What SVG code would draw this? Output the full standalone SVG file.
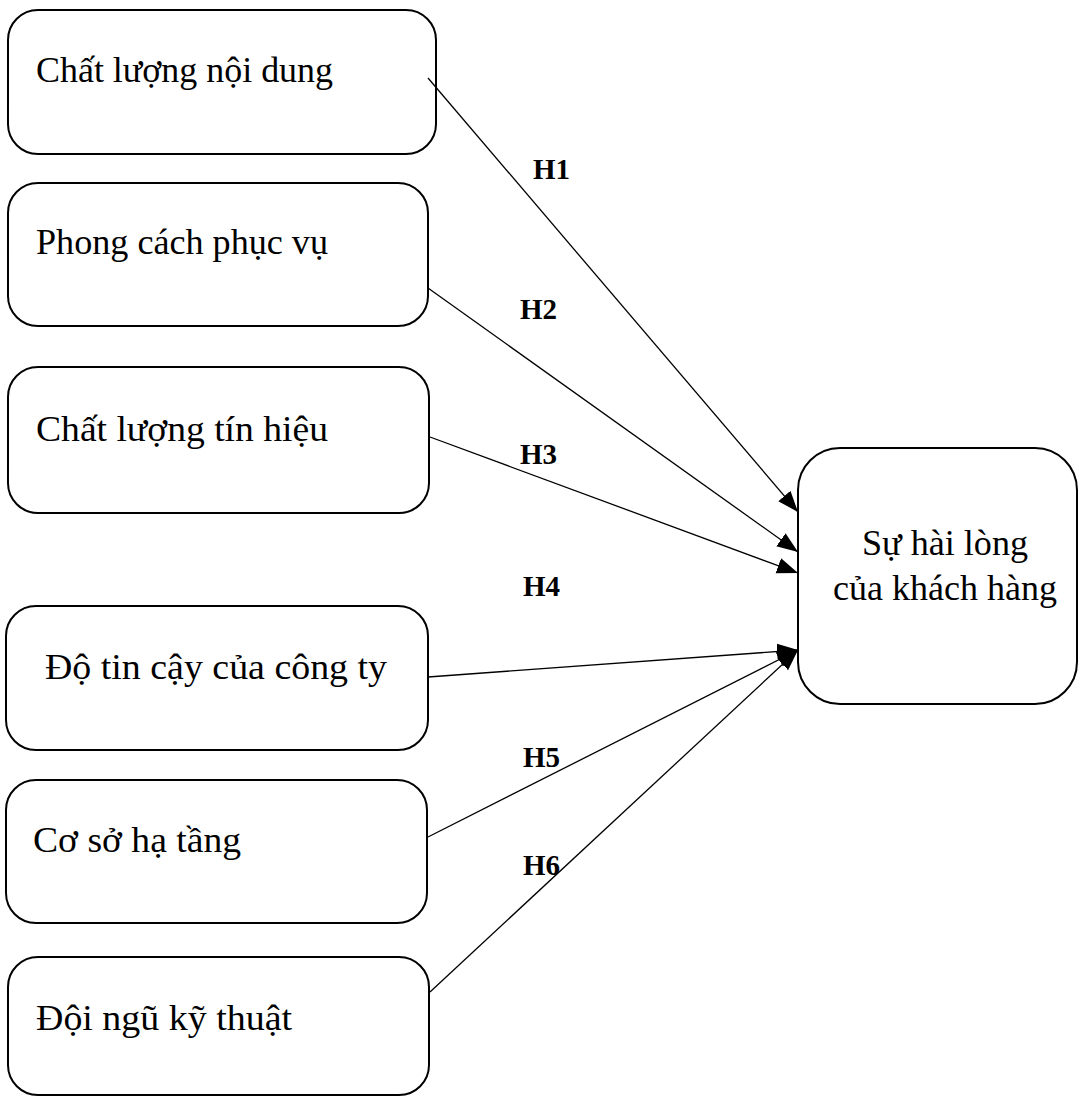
<svg xmlns="http://www.w3.org/2000/svg" width="1081" height="1097" viewBox="0 0 1081 1097">
<style>
.box{fill:#fff;stroke:#000;stroke-width:2}
.t{font-family:"Liberation Serif","Times New Roman",serif;font-size:36px;fill:#000}
.h{font-family:"Liberation Serif","Times New Roman",serif;font-size:29px;font-weight:bold;fill:#000}
.c{stroke:#000;stroke-width:1.3;fill:none;marker-end:url(#arr)}
</style>
<defs>
<marker id="arr" markerUnits="userSpaceOnUse" markerWidth="24" markerHeight="18" refX="21" refY="8" orient="auto">
<path d="M0,0 L21,8 L0,16 Z" fill="#000"/>
</marker>
</defs>
<rect width="1081" height="1097" fill="#fff"/>
<g id="n1"><rect class="box" x="8" y="10" width="428" height="144" rx="30"/><text class="t" x="36" y="82" textLength="297" lengthAdjust="spacingAndGlyphs">Chất lượng nội dung</text></g>
<g id="n2"><rect class="box" x="8" y="183" width="420" height="143" rx="30"/><text class="t" x="36" y="254" textLength="292" lengthAdjust="spacingAndGlyphs">Phong cách phục vụ</text></g>
<g id="n3"><rect class="box" x="8" y="367" width="421" height="146" rx="30"/><text class="t" x="36" y="441" textLength="292" lengthAdjust="spacingAndGlyphs">Chất lượng tín hiệu</text></g>
<g id="n4"><rect class="box" x="6" y="606" width="422" height="144" rx="30"/><text class="t" x="45" y="679" textLength="342" lengthAdjust="spacingAndGlyphs">Độ tin cậy của công ty</text></g>
<g id="n5"><rect class="box" x="6" y="780" width="421" height="143" rx="30"/><text class="t" x="33" y="852" textLength="208" lengthAdjust="spacingAndGlyphs">Cơ sở hạ tầng</text></g>
<g id="n6"><rect class="box" x="8" y="957" width="421" height="138" rx="30"/><text class="t" x="36" y="1030" textLength="256" lengthAdjust="spacingAndGlyphs">Đội ngũ kỹ thuật</text></g>
<g id="target"><rect class="box" x="798" y="448" width="279" height="256" rx="42"/><text class="t" x="862" y="555" textLength="166" lengthAdjust="spacingAndGlyphs">Sự hài lòng</text><text class="t" x="833" y="600" textLength="224" lengthAdjust="spacingAndGlyphs">của khách hàng</text></g>
<g id="connectors">
<line class="c" x1="428" y1="78" x2="798" y2="512"/>
<line class="c" x1="428" y1="288" x2="798" y2="552"/>
<line class="c" x1="430" y1="437" x2="798" y2="573"/>
<line class="c" x1="428" y1="677" x2="798" y2="650"/>
<line class="c" x1="428" y1="837" x2="798" y2="650"/>
<line class="c" x1="430" y1="992" x2="798" y2="650"/>
</g>
<g id="labels">
<text class="h" x="533" y="179">H1</text>
<text class="h" x="520" y="319">H2</text>
<text class="h" x="520" y="464">H3</text>
<text class="h" x="523" y="596">H4</text>
<text class="h" x="523" y="767">H5</text>
<text class="h" x="523" y="875">H6</text>
</g>
</svg>
